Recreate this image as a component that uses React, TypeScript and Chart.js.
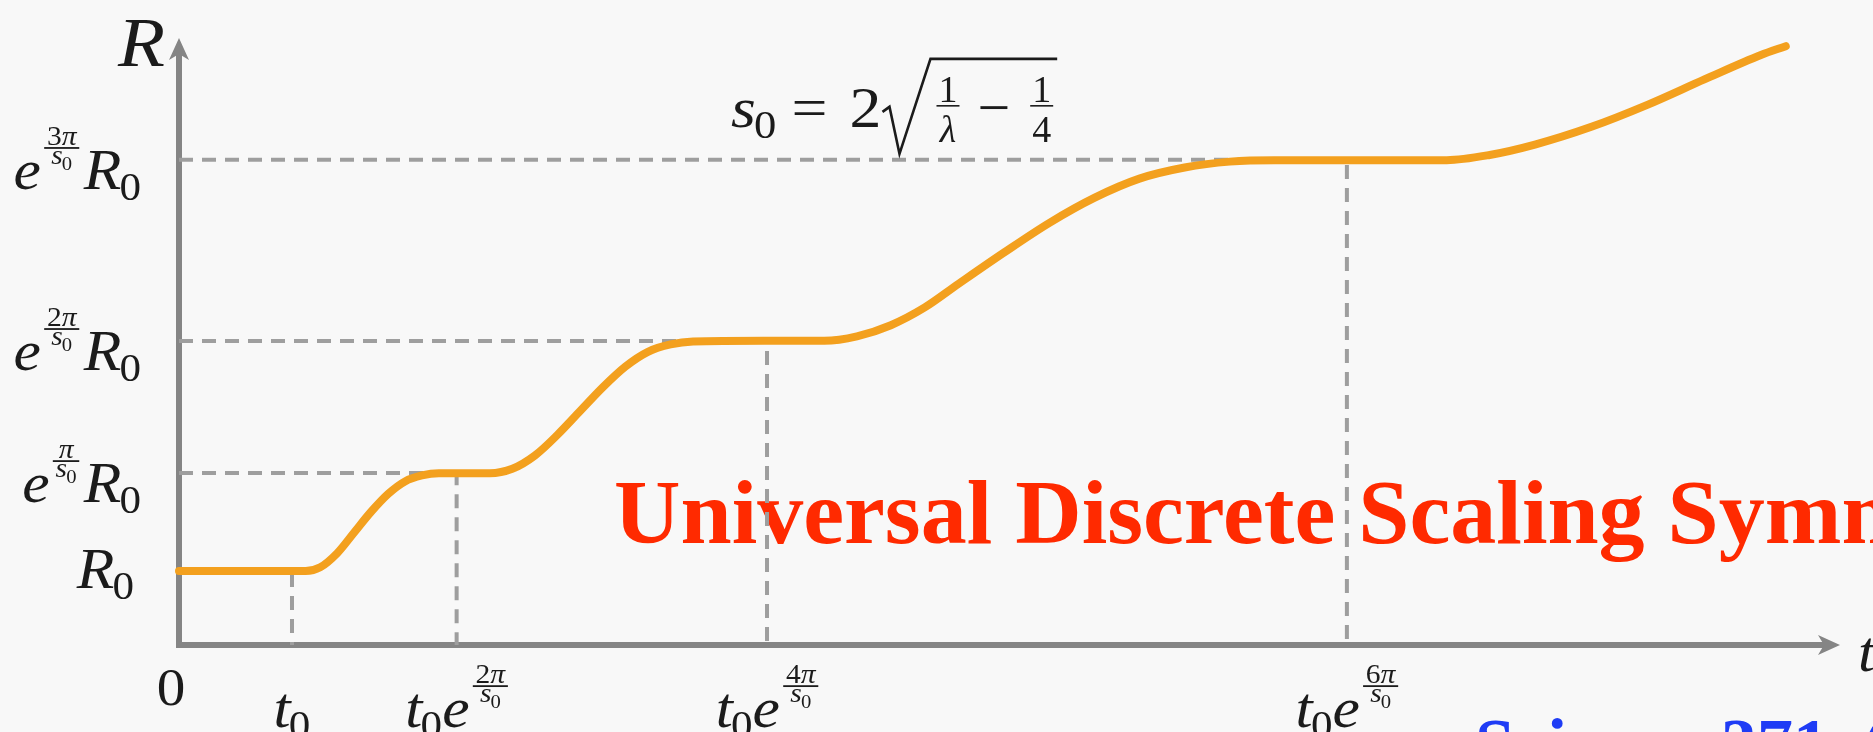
import React, { useEffect, useRef } from 'react';
import { Chart, registerables } from 'chart.js';

Chart.register(...registerables);

// Log-periodic growth R(t): staircase with plateaus at e^{kπ/s0} R0
const curveT = [0, 1.12, 1.25, 1.4, 1.55, 1.7, 1.85, 2.0, 2.15, 2.3, 2.75, 2.95, 3.15, 3.35, 3.55, 3.75, 3.95, 4.15, 4.35, 4.55, 5.18, 5.71, 6.0, 6.3, 6.6, 6.9, 7.3, 7.7, 8.1, 8.5, 8.9, 9.3, 9.7, 11.22, 11.6, 12.0, 12.5, 13.0, 13.5, 14.0, 14.22];
const curveR = [1.0, 1.0, 1.05, 1.24, 1.52, 1.8, 2.04, 2.21, 2.29, 2.32, 2.32, 2.38, 2.56, 2.84, 3.16, 3.48, 3.76, 3.96, 4.06, 4.1, 4.11, 4.11, 4.17, 4.32, 4.56, 4.88, 5.3, 5.7, 6.04, 6.3, 6.45, 6.53, 6.55, 6.55, 6.62, 6.76, 7.0, 7.3, 7.64, 7.97, 8.09];

// Plateau levels R0, e^{π/s0}R0, e^{2π/s0}R0, e^{3π/s0}R0
const levelR = [1.0, 2.324, 4.108, 6.554];
// Times t0, t0 e^{2π/s0}, t0 e^{4π/s0}, t0 e^{6π/s0}
const tickT = [1.0, 2.457, 5.204, 10.336];
// Exponent numerators for the labels
const levelExp = ['', 'π', '2π', '3π'];
const tickExp = ['', '2π', '4π', '6π'];

const X_MAX = 14.7;
const Y_MAX = 8.2;

const TITLE = 'Universal Discrete Scaling Symmetry';
const CITATION = 'Science 371, 6';

const SERIF = '"Liberation Serif", "Times New Roman", Times, serif';
const INK = '#1b1b1b';
const AXIS = '#858585';
const GUIDE = '#9e9e9e';
const CURVE = '#f3a01e';
const WIDEN = 1.1; // math glyphs are set a little wider than the text face

const fnt = (size: number, italic = false, bold = false) =>
  `${italic ? 'italic ' : ''}${bold ? 'bold ' : ''}${size}px ${SERIF}`;

type Run = { s: string; size: number; it: boolean; x: number; y: number };
type Rule = { x: number; y: number; w: number; h: number };

// Minimal row layout for math-style labels: runs of text plus fraction bars
class MathRow {
  runs: Run[] = [];
  rules: Rule[] = [];
  x = 0;
  ctx: CanvasRenderingContext2D;
  constructor(ctx: CanvasRenderingContext2D) {
    this.ctx = ctx;
  }
  width(s: string, size: number, it: boolean) {
    this.ctx.font = fnt(size, it);
    return this.ctx.measureText(s).width;
  }
  text(s: string, size: number, it = false, dy = 0) {
    this.runs.push({ s, size, it, x: this.x, y: dy });
    this.x += this.width(s, size, it);
    return this;
  }
  gap(px: number) {
    this.x += px;
    return this;
  }
  sym(main: string, sub: string, size: number) {
    this.text(main, size, true);
    this.gap(-size * 0.03);
    this.text(sub, size * 0.7, false, size * 0.2);
    return this;
  }
  frac(
    num: (r: MathRow) => void,
    den: (r: MathRow) => void,
    numY: number,
    barY: number,
    denY: number,
    pad: number,
    thick: number
  ) {
    const n = new MathRow(this.ctx);
    num(n);
    const d = new MathRow(this.ctx);
    den(d);
    const w = Math.max(n.x, d.x) + 2 * pad;
    const x0 = this.x;
    for (const r of n.runs) this.runs.push({ ...r, x: x0 + (w - n.x) / 2 + r.x, y: numY + r.y });
    for (const r of d.runs) this.runs.push({ ...r, x: x0 + (w - d.x) / 2 + r.x, y: denY + r.y });
    this.rules.push({ x: x0, y: barY - thick / 2, w, h: thick });
    this.x += w;
    return this;
  }
  draw(x: number, base: number, align: 'left' | 'right' | 'center', hs = WIDEN, color = INK) {
    const full = this.x * hs;
    const left = align === 'left' ? x : align === 'right' ? x - full : x - full / 2;
    const ctx = this.ctx;
    ctx.save();
    ctx.fillStyle = color;
    ctx.textBaseline = 'alphabetic';
    ctx.textAlign = 'left';
    for (const r of this.runs) {
      ctx.save();
      ctx.translate(left + r.x * hs, base + r.y);
      ctx.scale(hs, 1);
      ctx.font = fnt(r.size, r.it);
      ctx.fillText(r.s, 0, 0);
      ctx.restore();
    }
    for (const q of this.rules) ctx.fillRect(left + q.x * hs, base + q.y, q.w * hs, q.h);
    ctx.restore();
    return full;
  }
}

// e^{kπ/s0}: small fraction raised as an exponent
function expFrac(row: MathRow, numStr: string, S: number) {
  const es = S * 0.48;
  row.frac(
    (n) => {
      const k = numStr.replace('π', '');
      if (k) n.text(k, es);
      n.text('π', es, true);
    },
    (d) => d.sym('s', '0', es),
    -S * 0.79,
    -S * 0.73,
    -S * 0.44,
    2.5,
    1.8
  );
}

function arrowHead(ctx: CanvasRenderingContext2D, tx: number, ty: number, dx: number, dy: number) {
  const L = 22;
  const H = 10;
  const N = 6;
  const px = -dy;
  const py = dx;
  ctx.beginPath();
  ctx.moveTo(tx, ty);
  ctx.lineTo(tx - dx * L + px * H, ty - dy * L + py * H);
  ctx.lineTo(tx - dx * (L - N), ty - dy * (L - N));
  ctx.lineTo(tx - dx * L - px * H, ty - dy * L - py * H);
  ctx.closePath();
  ctx.fill();
}

const backgroundPlugin = {
  id: 'paper',
  beforeDraw(chart: Chart) {
    const { ctx, width, height } = chart;
    ctx.save();
    ctx.fillStyle = '#f8f8f8';
    ctx.fillRect(0, 0, width, height);
    ctx.restore();
  },
};

const axesPlugin = {
  id: 'arrowAxes',
  beforeDatasetsDraw(chart: Chart) {
    const { ctx, chartArea: a } = chart;
    const x0 = a.left;
    const y0 = a.bottom;
    ctx.save();
    ctx.strokeStyle = AXIS;
    ctx.fillStyle = AXIS;
    ctx.lineWidth = 6;
    ctx.beginPath();
    ctx.moveTo(x0 - 3, y0);
    ctx.lineTo(a.right - 14, y0);
    ctx.moveTo(x0, y0 + 3);
    ctx.lineTo(x0, a.top + 14);
    ctx.stroke();
    arrowHead(ctx, a.right, y0, 1, 0);
    arrowHead(ctx, x0, a.top, 0, -1);

    // headline sits under the guide lines
    const xs = chart.scales.x;
    const ys = chart.scales.y;
    ctx.font = fnt(92, false, true);
    ctx.fillStyle = '#ff2a00';
    ctx.textBaseline = 'alphabetic';
    ctx.fillText(TITLE, xs.getPixelForValue(3.85), ys.getPixelForValue(1.38));
    ctx.restore();
  },
};

const labelsPlugin = {
  id: 'mathLabels',
  afterDraw(chart: Chart) {
    const { ctx, chartArea: a } = chart;
    const xs = chart.scales.x;
    const ys = chart.scales.y;
    const S = 56;

    // R-axis levels
    levelR.forEach((lv, i) => {
      const y = ys.getPixelForValue(lv);
      const row = new MathRow(ctx);
      if (!levelExp[i]) {
        row.sym('R', '0', S);
        row.draw(a.left - 45, y + 17, 'right');
      } else {
        row.text('e', S, true).gap(3);
        expFrac(row, levelExp[i], S);
        row.gap(4).sym('R', '0', S);
        row.draw(a.left - 38, y + 29, 'right');
      }
    });

    // t-axis marks
    tickT.forEach((t, i) => {
      const x = xs.getPixelForValue(t);
      const row = new MathRow(ctx).sym('t', '0', S);
      if (tickExp[i]) {
        row.text('e', S, true).gap(3);
        expFrac(row, tickExp[i], S);
      }
      row.draw(x, a.bottom + 82, 'center');
    });

    new MathRow(ctx).text('0', 52).draw(a.left - 8, a.bottom + 60, 'center');
    new MathRow(ctx).text('t', S, true).draw(a.right + 18, a.bottom + 26, 'left');
    new MathRow(ctx).text('R', 70, true).draw(a.left - 14, a.top + 28, 'right');

    // s0 = 2 sqrt(1/λ − 1/4)
    const F = 58;
    const fs = 38;
    const fx = xs.getPixelForValue(4.885);
    const fb = ys.getPixelForValue(7.0);
    const lhs = new MathRow(ctx).sym('s', '0', F).gap(14).text('=', F).gap(20).text('2', F);
    const lw = lhs.draw(fx, fb, 'left');
    const sx = fx + lw + 1;
    const inner = new MathRow(ctx)
      .frac((n) => n.text('1', fs), (d) => d.text('λ', fs, true), -25, -21, 15, 2, 1.6)
      .gap(18)
      .text('−', F)
      .gap(20)
      .frac((n) => n.text('1', fs), (d) => d.text('4', fs), -25, -21, 15, 2, 1.6);
    const iw = inner.draw(sx + 54, fb, 'left', 1);
    ctx.save();
    ctx.strokeStyle = INK;
    ctx.lineJoin = 'miter';
    ctx.lineWidth = 2.6;
    ctx.beginPath();
    ctx.moveTo(sx, fb - 15);
    ctx.lineTo(sx + 7, fb - 20);
    ctx.lineTo(sx + 17, fb + 27);
    ctx.lineTo(sx + 48, fb - 68);
    ctx.lineTo(sx + 54 + iw + 4, fb - 68);
    ctx.stroke();
    ctx.restore();

    // citation, running off the lower edge
    ctx.save();
    ctx.font = fnt(72, false, true);
    ctx.fillStyle = '#1f3cf5';
    ctx.fillText(CITATION, 1475, 768);
    ctx.restore();
  },
};

export default function App() {
  const ref = useRef<HTMLCanvasElement>(null);

  useEffect(() => {
    const canvas = ref.current;
    if (!canvas) return;

    const curve = curveT.map((t, i) => ({ x: t, y: curveR[i] }));
    const guides = levelR.map((lv, i) => ({
      data: [
        { x: 0, y: lv },
        { x: tickT[i], y: lv },
        { x: tickT[i], y: 0 },
      ],
      borderColor: GUIDE,
      borderWidth: 4,
      borderDash: [14, 9],
      pointRadius: 0,
      tension: 0,
      clip: false as const,
      order: 1,
    }));

    const chart = new Chart(canvas, {
      type: 'line',
      data: {
        datasets: [
          {
            data: curve,
            borderColor: CURVE,
            borderWidth: 8,
            borderCapStyle: 'round',
            borderJoinStyle: 'round',
            cubicInterpolationMode: 'monotone',
            pointRadius: 0,
            clip: false as const,
            order: 0,
          },
          ...guides,
        ],
      },
      options: {
        responsive: false,
        animation: false,
        events: [],
        layout: { padding: { left: 179, right: 33, top: 38, bottom: 87 } },
        plugins: { legend: { display: false }, tooltip: { enabled: false } },
        scales: {
          x: { type: 'linear', min: 0, max: X_MAX, display: false },
          y: { type: 'linear', min: 0, max: Y_MAX, display: false },
        },
      },
      plugins: [backgroundPlugin, axesPlugin, labelsPlugin],
    });

    return () => chart.destroy();
  }, []);

  return (
    <div style={{ position: 'fixed', left: 0, top: 0, width: 1873, height: 732 }}>
      <canvas ref={ref} width={1873} height={732} style={{ display: 'block', width: 1873, height: 732 }} />
    </div>
  );
}
